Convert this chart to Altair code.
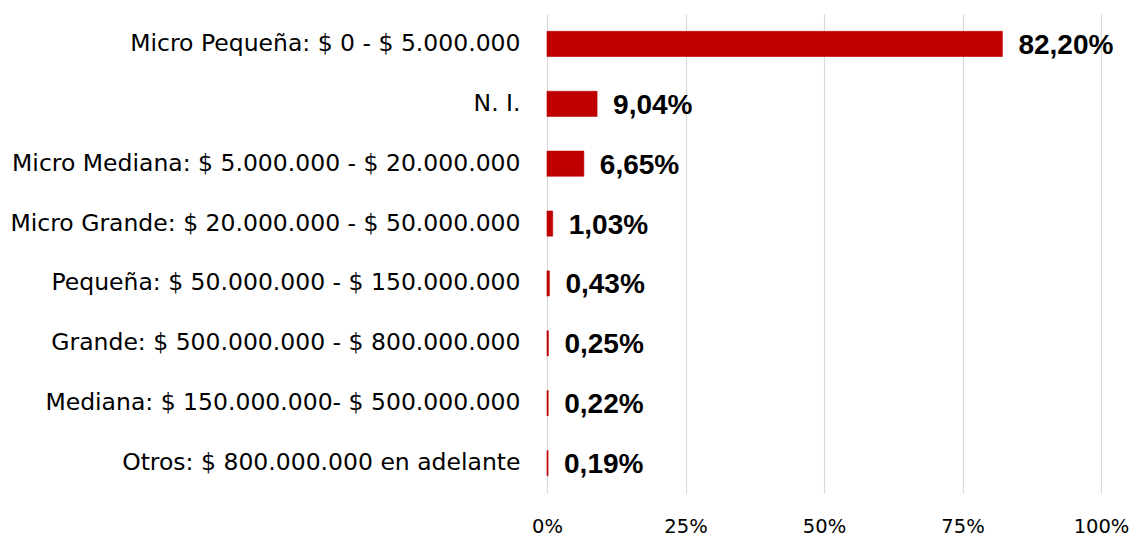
import altair as alt
import pandas as pd

categories = [
    "Micro Pequeña: $ 0 - $ 5.000.000",
    "N. I.",
    "Micro Mediana: $ 5.000.000 - $ 20.000.000",
    "Micro Grande: $ 20.000.000 - $ 50.000.000",
    "Pequeña: $ 50.000.000 - $ 150.000.000",
    "Grande: $ 500.000.000 - $ 800.000.000",
    "Mediana: $ 150.000.000- $ 500.000.000",
    "Otros: $ 800.000.000 en adelante",
]
values = [82.20, 9.04, 6.65, 1.03, 0.43, 0.25, 0.22, 0.19]
x_ticks = [0, 25, 50, 75, 100]

df = pd.DataFrame({
    "cat": categories,
    "val": values,
    "label": [f"{v:.2f}".replace(".", ",") + "%" for v in values],
})

y_enc = alt.Y(
    "cat:N",
    sort=categories,
    title=None,
    scale=alt.Scale(paddingInner=0.58, paddingOuter=0.29),
    axis=alt.Axis(
        labelFont="DejaVu Sans",
        labelFontSize=23.5,
        labelColor="#000000",
        labelPadding=27,
        ticks=False,
        domain=False,
        grid=False,
        labelLimit=0,
    ),
)

x_enc = alt.X(
    "val:Q",
    title=None,
    scale=alt.Scale(domain=[0, 100], nice=False),
    axis=alt.Axis(
        values=x_ticks,
        labelExpr="datum.value + '%'",
        labelFont="DejaVu Sans",
        labelFontSize=19.5,
        labelColor="#000000",
        labelPadding=24,
        labelFlush=False,
        labelOverlap=False,
        ticks=False,
        domain=False,
        grid=True,
        gridColor="#D9D9D9",
        gridWidth=1.2,
    ),
)

bars = alt.Chart(df).mark_bar(
    color="#C00000", stroke="#C00000", strokeWidth=0.6
).encode(x=x_enc, y=y_enc)

text = alt.Chart(df).mark_text(
    align="left",
    baseline="middle",
    dx=16,
    dy=2,
    font="Liberation Sans",
    fontSize=28,
    fontWeight="bold",
    color="#000000",
).encode(
    x=alt.X("val:Q"),
    y=alt.Y("cat:N", sort=categories),
    text="label:N",
)

chart = (
    alt.layer(bars, text)
    .properties(
        width=554,
        height=479,
        background="white",
        autosize=alt.AutoSizeParams(type="none"),
        padding={"left": 539, "top": 6, "right": 28, "bottom": 44},
    )
    .configure_view(strokeWidth=0, stroke="transparent")
)

chart.save("out.html", embed_options={"renderer": "svg", "actions": False})
